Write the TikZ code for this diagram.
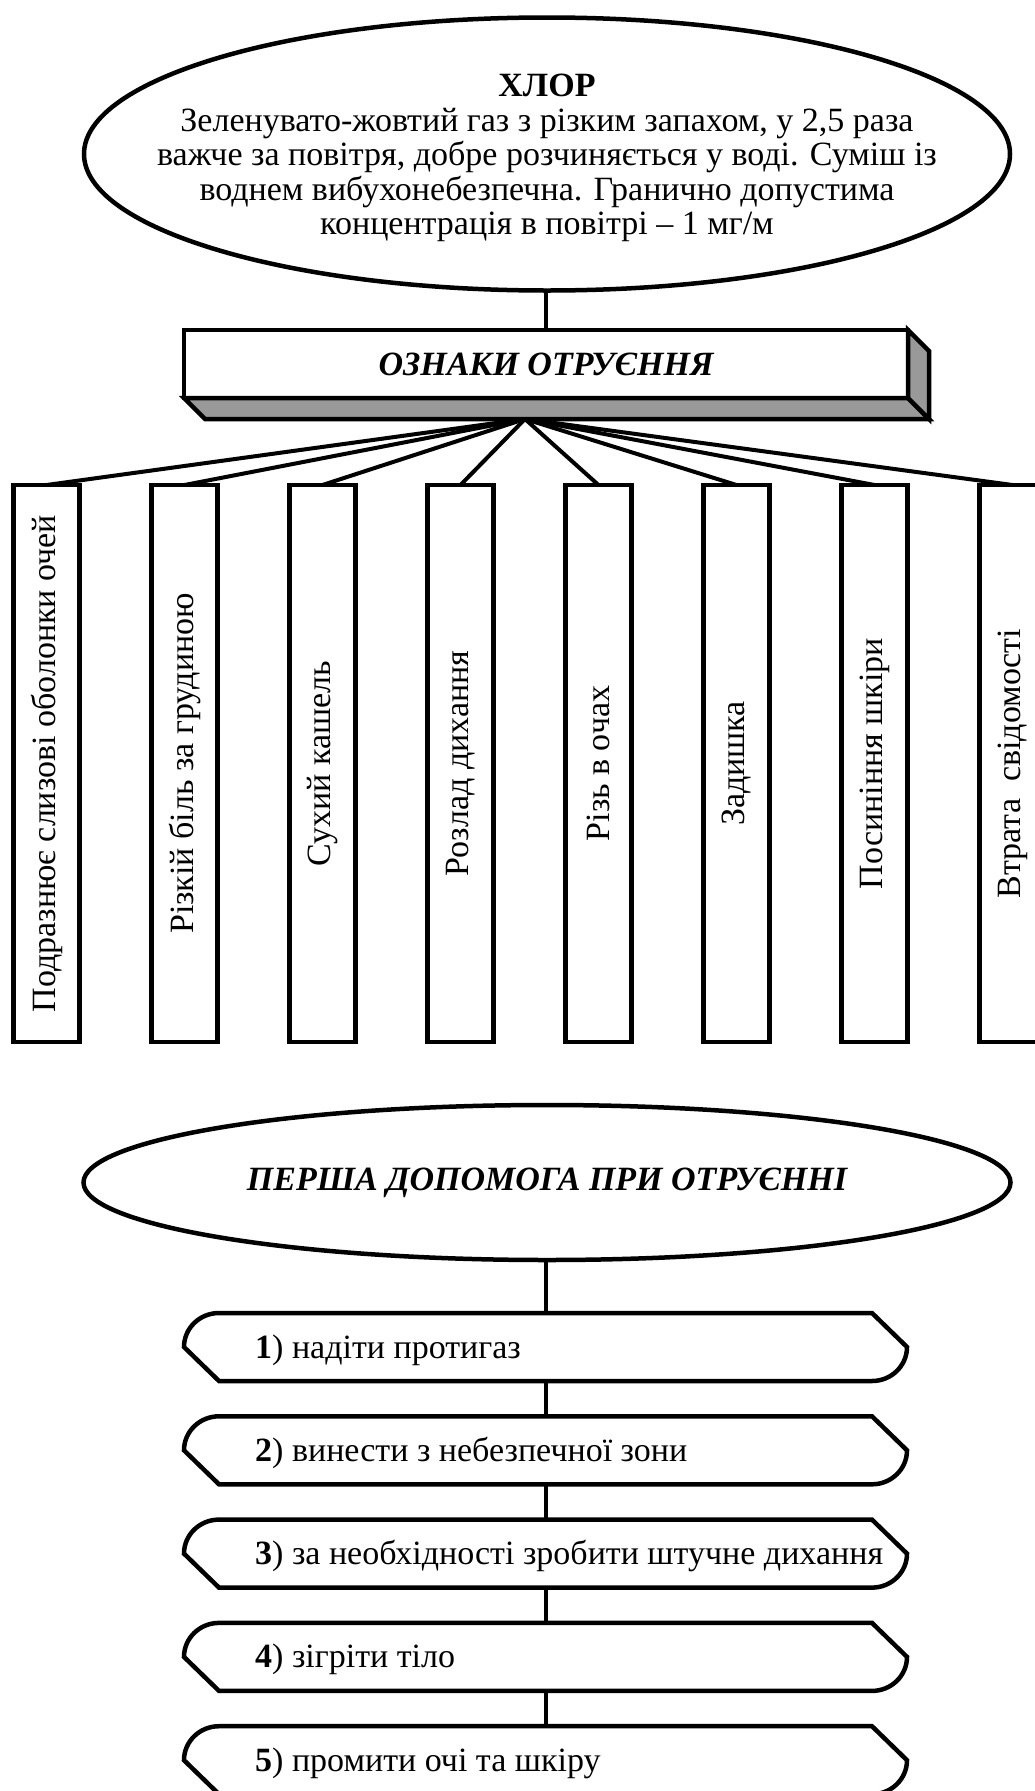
\documentclass[tikz,border=0pt]{standalone}
\usepackage{fontspec}
\setmainfont{Liberation Serif}
\usepackage{graphicx}
\usetikzlibrary{shapes.geometric,calc}
\definecolor{shade}{HTML}{999999}
\begin{document}
\begin{tikzpicture}[x=1pt,y=-1pt,
  shapeline/.style={line width=4.5pt},
  link/.style={line width=4pt},
  txt/.style={font=\fontsize{34}{34.5}\selectfont},
  bitxt/.style={font=\fontsize{34}{34.5}\selectfont\bfseries\itshape},
  oval/.style={ellipse, draw, shapeline, inner sep=0pt, outer sep=0pt, fill=white},
  symbox/.style={draw, shapeline, minimum width=66pt, minimum height=557pt, inner sep=0pt, outer sep=0pt, txt},
  signbox/.style={draw, shapeline, fill=white, minimum width=724pt, minimum height=68pt, inner sep=0pt, outer sep=0pt, bitxt},
  hexbody/.style={minimum width=723pt, minimum height=68pt, inner sep=0pt, outer sep=0pt},
  hexline/.style={shapeline, line join=miter}
]
\useasboundingbox (0,0) rectangle (1035,1791);
\clip (0,0) rectangle (1035,1791);

% top ellipse
\node[oval, minimum width=926pt, minimum height=273pt] (chlor) at (547,154) {};
\node[txt, align=center, inner sep=0pt] (chlortext) at (547,158)
  {\textbf{ХЛОР}\\Зеленувато-жовтий газ з різким запахом, у 2,5 раза\\важче за повітря, добре розчиняється у воді. Суміш із\\воднем вибухонебезпечна. Гранично допустима\\концентрація в повітрі – 1 мг/м};

% 3D box
\node[signbox] (signs) at (546,364) {ОЗНАКИ ОТРУЄННЯ};
\draw[shapeline, fill=shade] (signs.south west) -- ++(21,21) -- ($(signs.south east)+(21,21)$) -- (signs.south east) -- cycle;
\draw[shapeline, fill=shade] (signs.north east) -- ++(21,21) -- ($(signs.south east)+(21,21)$) -- (signs.south east) -- cycle;
\draw[link] (signs.north) -- (signs.north |- chlor.south);

\coordinate (apex) at (525,419);

% symptom boxes
\foreach \i/\t in {1/{Подразнює слизові оболонки очей},
                   2/{Різкій біль за грудиною},
                   3/{Сухий кашель},
                   4/{Розлад дихання},
                   5/{Різь в очах},
                   6/{Задишка},
                   7/{Посиніння шкіри},
                   8/{Втрата\ \ свідомості}} {
  \node[symbox] (b\i) at ({46.5+138*(\i-1)},763.5) {\rotatebox{90}{\t}};
  \draw[link] (apex) -- (b\i.north);
}

% second ellipse
\node[oval, minimum width=927pt, minimum height=155pt, bitxt] (aid) at (547,1182.5) {ПЕРША ДОПОМОГА ПРИ ОТРУЄННІ};

% steps
\foreach \i/\t in {1/{\textbf{1}) надіти протигаз},
                   2/{\textbf{2}) винести з небезпечної зони},
                   3/{\textbf{3}) за необхідності зробити штучне дихання},
                   4/{\textbf{4}) зігріти тіло},
                   5/{\textbf{5}) промити очі та шкіру}} {
  \pgfmathsetmacro{\yy}{1347+103.3*(\i-1)}
  \node[hexbody] (s\i) at (545.5,\yy) {};
  \draw[hexline, shift={(s\i.center)}] (-326.5,-34) -- (326.5,-34) -- (361.5,0)
     .. controls (361.5,18.8) and (345.8,34) .. (326.5,34) -- (-326.5,34) -- (-361.5,0)
     .. controls (-361.5,-18.8) and (-345.8,-34) .. (-326.5,-34) -- cycle;
  \node[txt, anchor=base west, inner sep=0pt] (t\i) at ({255},{\yy+11}) {\t};
}
\draw[link] (s1.north |- aid.south) -- (s1.north);
\foreach \i [evaluate=\i as \j using int(\i+1)] in {1,2,3,4} {
  \draw[link] (s\i.south) -- (s\j.north);
}
\end{tikzpicture}
\end{document}
